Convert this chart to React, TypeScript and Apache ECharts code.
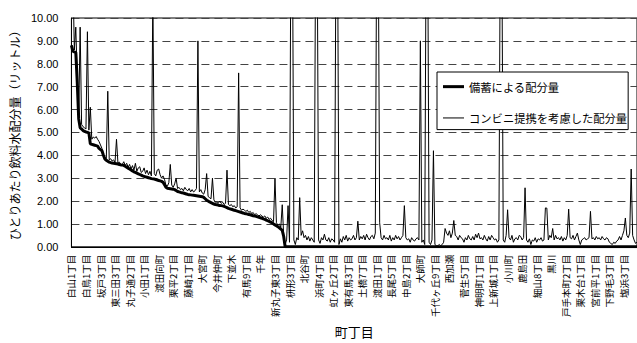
import React, { useEffect, useRef } from "react";
import * as echarts from "echarts";

// Labelled town names (every 10th category is labelled on the axis)
const labelNames: string[] = [
  "白山1丁目", "白鳥1丁目", "坂戸3丁目", "東三田3丁目", "丸子通2丁目", "小田1丁目", "渡田向町",
  "栗平2丁目", "藤崎1丁目", "大宮町", "今井仲町", "下並木", "有馬9丁目", "千年", "新丸子東3丁目",
  "枡形3丁目", "北谷町", "浜町4丁目", "虹ヶ丘2丁目", "東有馬3丁目", "土橋7丁目", "渡田1丁目",
  "長尾5丁目", "中島2丁目", "大師町", "千代ヶ丘9丁目", "西加瀬", "菅生5丁目", "神明町1丁目",
  "上新城1丁目", "小川町", "鹿島田", "細山8丁目", "黒川", "戸手本町2丁目", "栗木台1丁目",
  "宮前平1丁目", "下野毛3丁目", "塩浜3丁目",
];

// 備蓄による配分量
const stockpile: number[] = [
  8.8, 8.55, 8.52, 8.5, 7.2, 5.6, 5.2, 5.15, 5.08, 5.05,
  5.02, 5.0, 4.98, 4.5, 4.48, 4.46, 4.44, 4.42, 4.4, 4.3,
  4.25, 4.2, 4.0, 3.84, 3.78, 3.74, 3.7, 3.68, 3.66, 3.65,
  3.64, 3.63, 3.62, 3.6, 3.58, 3.57, 3.56, 3.52, 3.48, 3.44,
  3.4, 3.36, 3.32, 3.28, 3.25, 3.22, 3.19, 3.16, 3.13, 3.1,
  3.08, 3.06, 3.04, 3.02, 3.0, 2.98, 2.97, 2.96, 2.94, 2.92,
  2.9, 2.88, 2.86, 2.82, 2.72, 2.6, 2.56, 2.55, 2.54, 2.53,
  2.52, 2.5, 2.46, 2.42, 2.4, 2.38, 2.36, 2.35, 2.33, 2.31,
  2.29, 2.28, 2.27, 2.26, 2.25, 2.24, 2.23, 2.22, 2.21, 2.2,
  2.19, 2.16, 2.1, 2.04, 2.0, 1.96, 1.93, 1.9, 1.87, 1.85,
  1.84, 1.82, 1.81, 1.8, 1.79, 1.77, 1.74, 1.71, 1.68, 1.66,
  1.64, 1.62, 1.6, 1.58, 1.56, 1.54, 1.52, 1.5, 1.48, 1.46,
  1.45, 1.43, 1.41, 1.4, 1.38, 1.36, 1.35, 1.33, 1.31, 1.29,
  1.27, 1.25, 1.22, 1.2, 1.17, 1.14, 1.11, 1.08, 1.05, 1.0,
  0.96, 0.92, 0.88, 0.83, 0.78, 0.72, 0.45, 0, 0, 0,
  0, 0, 0, 0, 0, 0, 0, 0, 0, 0,
  0, 0, 0, 0, 0, 0, 0, 0, 0, 0,
  0, 0, 0, 0, 0, 0, 0, 0, 0, 0,
  0, 0, 0, 0, 0, 0, 0, 0, 0, 0,
  0, 0, 0, 0, 0, 0, 0, 0, 0, 0,
  0, 0, 0, 0, 0, 0, 0, 0, 0, 0,
  0, 0, 0, 0, 0, 0, 0, 0, 0, 0,
  0, 0, 0, 0, 0, 0, 0, 0, 0, 0,
  0, 0, 0, 0, 0, 0, 0, 0, 0, 0,
  0, 0, 0, 0, 0, 0, 0, 0, 0, 0,
  0, 0, 0, 0, 0, 0, 0, 0, 0, 0,
  0, 0, 0, 0, 0, 0, 0, 0, 0, 0,
  0, 0, 0, 0, 0, 0, 0, 0, 0, 0,
  0, 0, 0, 0, 0, 0, 0, 0, 0, 0,
  0, 0, 0, 0, 0, 0, 0, 0, 0, 0,
  0, 0, 0, 0, 0, 0, 0, 0, 0, 0,
  0, 0, 0, 0, 0, 0, 0, 0, 0, 0,
  0, 0, 0, 0, 0, 0, 0, 0, 0, 0,
  0, 0, 0, 0, 0, 0, 0, 0, 0, 0,
  0, 0, 0, 0, 0, 0, 0, 0, 0, 0,
  0, 0, 0, 0, 0, 0, 0, 0, 0, 0,
  0, 0, 0, 0, 0, 0, 0, 0, 0, 0,
  0, 0, 0, 0, 0, 0, 0, 0, 0, 0,
  0, 0, 0, 0, 0, 0, 0, 0, 0, 0,
];

// コンビニ提携を考慮した配分量
const withConvenience: number[] = [
  11, 12, 8.6, 9.6, 7.4, 5.6, 9.6, 5.35, 5.25, 5.2,
  5.15, 9.4, 5.1, 6.1, 4.7, 4.8, 4.75, 4.82, 4.7, 4.6,
  4.45, 4.3, 4.0, 3.9, 3.85, 6.8, 3.8, 3.85, 3.75, 3.8,
  3.7, 4.7, 3.65, 3.7, 3.6, 3.6, 3.72, 3.55, 3.65, 3.48,
  3.6, 3.4, 3.55, 3.35, 3.65, 3.3, 3.45, 3.5, 3.25, 3.3,
  3.45, 3.2, 3.35, 3.15, 3.3, 3.1, 11, 3.2, 3.1, 3.35,
  3.4, 3.15, 3.0, 3.1, 2.95, 2.7, 2.65, 2.8, 3.6, 2.7,
  2.6, 2.75, 3.0, 2.55, 2.6, 2.5, 2.55, 2.45, 2.6, 2.5,
  2.45, 2.55, 2.4, 2.5, 2.4, 2.45, 2.55, 9.0, 2.4, 2.5,
  2.35, 2.3, 2.5, 3.2, 2.2, 2.15, 2.1, 3.0, 2.05, 1.95,
  1.95, 1.9, 2.0, 1.9, 1.95, 1.85, 1.9, 3.35, 1.85, 1.8,
  1.85, 1.75, 1.8, 1.7, 1.75, 7.6, 1.7, 1.6, 1.65, 1.6,
  1.55, 1.6, 1.5, 1.55, 1.45, 1.5, 1.4, 1.45, 1.4, 1.35,
  1.4, 1.35, 1.3, 1.35, 1.25, 1.3, 1.2, 1.25, 1.15, 1.1,
  3.0, 1.05, 0.95, 1.0, 0.85, 1.84, 0.5, 0.1, 0.3, 1.8,
  0.2, 14, 14, 0.3, 0.1, 0.4, 0.3, 2.15, 0.5, 0.7,
  0.4, 0.5, 0.3, 0.45, 0.25, 0.4, 0.3, 0.2, 14, 14,
  0.3, 0.15, 0.4, 0.3, 0.55, 0.3, 0.25, 0.4, 0.2, 0.35,
  0.3, 0.2, 14, 14, 0.1, 0.35, 0.2, 0.45, 0.3, 0.5,
  0.25, 0.4, 0.3, 0.35, 0.5, 0.3, 0.4, 1.12, 0.3, 0.45,
  0.35, 0.5, 0.3, 0.55, 0.4, 0.3, 0.45, 0.5, 0.35, 0.6,
  14, 14, 1.05, 0.4, 0.3, 0.5, 0.35, 0.4, 0.3, 0.5,
  0.25, 0.4, 0.3, 0.5, 0.35, 0.45, 0.3, 0.4, 0.5, 1.8,
  0.4, 0.3, 0.35, 0.2, 0.4, 0.3, 0.25, 0.35, 0.4, 0.3,
  9.0, 0.2, 0.3, 0.1, 14, 14, 0.2, 0.1, 0.3, 4.2,
  0.1, 0.05, 0.05, 0.1, 0.05, 0.1, 0.2, 0.8, 0.6, 0.5,
  0.7, 0.4, 0.6, 1.15, 0.5, 0.45, 0.3, 0.5, 0.4, 0.35,
  0.2, 0.4, 0.3, 0.5, 0.35, 0.3, 0.45, 0.3, 0.55, 0.4,
  0.6, 0.35, 0.4, 0.3, 0.5, 0.35, 0.25, 0.45, 0.3, 0.5,
  0.4, 0.3, 0.35, 0.2, 0.3, 14, 14, 0.3, 0.2, 0.5,
  1.62, 0.4, 0.3, 0.5, 0.2, 0.35, 0.4, 0.3, 0.5, 0.45,
  0.3, 0.4, 2.58, 0.3, 0.2, 0.35, 0.1, 0.3, 0.25, 0.4,
  0.2, 0.35, 0.3, 0.4, 0.25, 0.3, 1.7, 1.69, 0.3, 0.5,
  0.4, 0.8, 0.3, 0.5, 0.35, 0.4, 0.3, 0.45, 0.25, 0.4,
  0.3, 0.5, 1.65, 0.4, 0.35, 0.5, 0.3, 0.45, 0.6, 0.3,
  0.1, 0.3, 0.35, 0.4, 0.3, 0.35, 0.4, 1.55, 0.35, 0.4,
  0.3, 0.45, 0.35, 0.4, 0.3, 0.45, 0.35, 0.3, 0.4, 0.35,
  0.2, 0.15, 0.1, 0.2, 0.15, 0.25, 0.3, 0.45, 0.3, 0.5,
  0.7, 1.26, 0.5, 0.4, 0.6, 3.4, 0.5, 0.3, 0.15, 0.2,
];

const LABEL_EVERY = 10;
const categories: string[] = withConvenience.map((_, i) =>
  i % LABEL_EVERY === 0 ? labelNames[i / LABEL_EVERY] ?? "" : ""
);

const seriesNames = ["備蓄による配分量", "コンビニ提携を考慮した配分量"];

export default function App() {
  const ref = useRef<HTMLDivElement>(null);
  useEffect(() => {
    if (!ref.current) return;
    const chart = echarts.init(ref.current, null, { renderer: "svg" });
    const jp = "'Noto Sans CJK JP', sans-serif";
    chart.setOption({
      animation: false,
      backgroundColor: "#ffffff",
      grid: {
        left: 68,
        top: 18,
        right: -1,
        bottom: 92,
        show: true,
        borderColor: "#000",
        borderWidth: 1,
        backgroundColor: "transparent",
      },
      legend: {
        orient: "vertical",
        left: 437,
        top: 72,
        backgroundColor: "#ffffff",
        borderColor: "#000",
        borderWidth: 1,
        padding: [9, 1, 6, 6],
        itemGap: 20,
        itemWidth: 21,
        itemHeight: 14,
        textStyle: { fontSize: 11.3, color: "#000", fontFamily: jp },
        data: [
          { name: seriesNames[0], icon: "path://M0,0h21v3h-21z" },
          { name: seriesNames[1], icon: "path://M0,0h21v1h-21z" },
        ],
      },
      xAxis: {
        type: "category",
        data: categories,
        boundaryGap: false,
        name: "町丁目",
        nameLocation: "middle",
        nameGap: 58,
        nameTextStyle: { fontSize: 13, color: "#000", fontFamily: jp },
        axisLine: { show: true, lineStyle: { color: "#000", width: 1 } },
        axisTick: { show: false },
        axisLabel: {
          interval: LABEL_EVERY - 1,
          rotate: 90,
          margin: 8,
          fontSize: 9.5,
          color: "#000",
          fontFamily: jp,
        },
        splitLine: { show: false },
      },
      yAxis: {
        type: "value",
        min: 0,
        max: 10,
        interval: 1,
        name: "ひとりあたり飲料水配分量（リットル）",
        nameLocation: "middle",
        nameRotate: 90,
        nameGap: 46,
        nameTextStyle: { fontSize: 12, color: "#000", fontFamily: jp },
        axisLine: { show: true, lineStyle: { color: "#000", width: 1 } },
        axisTick: { show: false },
        axisLabel: {
          formatter: (v: number) => v.toFixed(2),
          fontSize: 11,
          color: "#000",
          margin: 13,
          fontFamily: "'Liberation Sans', Arial, sans-serif",
        },
        splitLine: {
          show: true,
          lineStyle: { color: "#444", type: [8, 5], width: 1 },
        },
      },
      series: [
        {
          name: seriesNames[0],
          type: "line",
          data: stockpile,
          symbol: "none",
          z: 3,
          lineStyle: { color: "#000", width: 3 },
          itemStyle: { color: "#000" },
        },
        {
          name: seriesNames[1],
          type: "line",
          data: withConvenience,
          symbol: "none",
          z: 2,
          lineStyle: { color: "#000", width: 1 },
          itemStyle: { color: "#000" },
        },
      ],
    });
    return () => chart.dispose();
  }, []);
  return (
    <div
      ref={ref}
      style={{ position: "fixed", left: 0, top: 0, width: 637, height: 343, background: "#fff" }}
    />
  );
}
